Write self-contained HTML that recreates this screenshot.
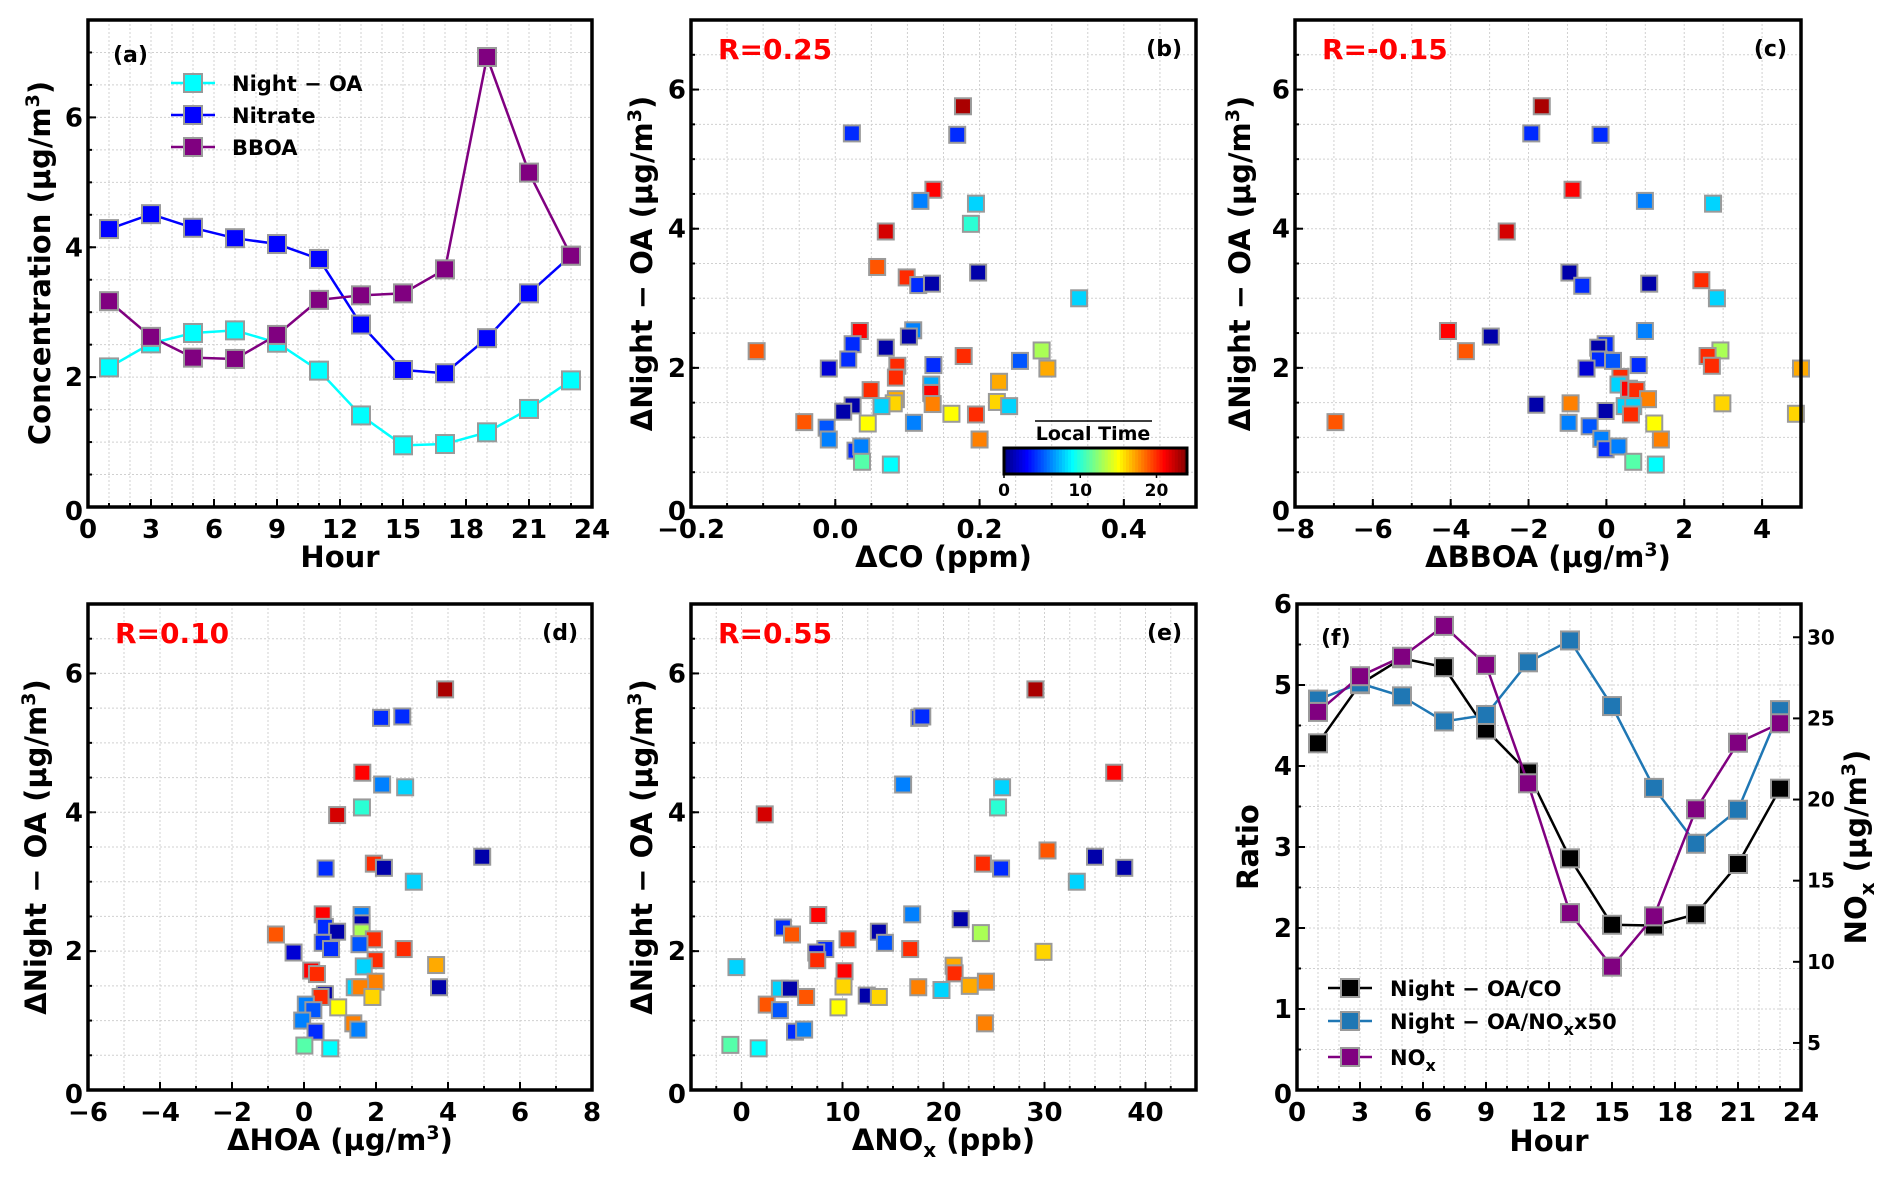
<!DOCTYPE html>
<html><head><meta charset="utf-8"><style>
html,body{margin:0;padding:0;background:#fff;}
svg{display:block;font-family:"DejaVu Sans","Liberation Sans",sans-serif;font-weight:bold;}
</style></head><body>
<svg id="fig" width="1892" height="1186" viewBox="0 0 1892 1186" xmlns="http://www.w3.org/2000/svg"></svg>
<script>
// ---------- Panel (a) data ----------
const hoursA = [1,3,5,7,9,11,13,15,17,19,21,23];
const nightOA = [2.15,2.52,2.68,2.72,2.53,2.10,1.41,0.95,0.97,1.15,1.51,1.95];
const nitrate = [4.28,4.51,4.30,4.14,4.05,3.82,2.81,2.11,2.06,2.60,3.29,3.87];
const bboa = [3.17,2.62,2.30,2.28,2.65,3.19,3.26,3.29,3.66,6.93,5.15,3.87];
// ---------- Panel (f) data ----------
const hoursF = [1,3,5,7,9,11,13,15,17,19,21,23];
const ratioCO = [4.28,5.01,5.33,5.22,4.45,3.92,2.86,2.04,2.03,2.17,2.79,3.72];
const ratioNOx = [4.82,5.02,4.86,4.55,4.63,5.28,5.55,4.74,3.73,3.04,3.46,4.69];
const noxF = [25.4,27.6,28.8,30.7,28.3,21.0,13.0,9.7,12.8,19.4,23.5,24.7];
// ---------- Panel (b) ΔCO scatter ----------
const bX = [0.177,0.023,0.169,0.136,0.118,0.195,0.188,0.070,0.058,0.198,0.099,0.115,0.134,0.338,0.034,0.108,0.102,0.024,0.070,-0.109,0.286,0.178,0.018,0.256,-0.009,0.086,0.136,0.294,0.084,0.227,0.133,0.049,0.133,0.084,0.081,0.064,0.135,0.024,0.011,0.224,0.241,0.161,0.195,-0.043,0.045,0.109,-0.012,-0.009,0.200,0.028,0.036,0.037,0.077];
const bY = [5.76,5.37,5.35,4.56,4.40,4.36,4.07,3.96,3.45,3.37,3.30,3.19,3.21,3.00,2.53,2.54,2.45,2.34,2.29,2.24,2.25,2.17,2.12,2.10,1.99,2.03,2.04,1.99,1.86,1.80,1.76,1.68,1.64,1.55,1.49,1.45,1.48,1.46,1.37,1.51,1.45,1.34,1.33,1.22,1.20,1.21,1.14,0.97,0.97,0.81,0.87,0.65,0.61];
const bH = [23,4,4,21,6,8,10,22,19,1,20,4,1,8,21,6,1,4,1,19,13,20,4,5,2,20,4,17,20,17,7,20,21,17,16,8,18,1,1,16,8,15,20,19,15,6,5,6,18,4,6,11,9];
// ---------- Panel (c) ΔBBOA scatter ----------
const cX = [-1.66,-1.93,-0.15,-0.87,0.99,2.74,-2.56,-0.95,-0.62,1.10,2.44,2.84,-4.07,-2.97,0.99,-3.61,-0.02,-0.21,-0.19,0.17,-0.51,0.83,2.93,2.60,2.71,5.0,0.36,0.31,0.58,0.77,1.07,-1.80,-0.92,0.47,0.69,0.63,-0.02,2.98,4.87,-6.96,-0.97,1.23,-0.43,-0.13,1.40,-0.02,0.31,0.69,1.27];
const cY = [5.76,5.37,5.35,4.56,4.40,4.36,3.96,3.37,3.18,3.21,3.26,3.00,2.53,2.45,2.53,2.24,2.34,2.29,2.12,2.10,1.99,2.04,2.25,2.17,2.03,1.99,1.87,1.76,1.70,1.68,1.55,1.47,1.49,1.45,1.45,1.33,1.38,1.49,1.34,1.22,1.21,1.20,1.16,0.98,0.97,0.83,0.87,0.65,0.61];
const cH = [23,4,4,21,6,8,22,1,4,1,20,8,21,1,6,19,4,1,4,5,2,4,13,20,20,17,20,8,21,20,18,1,18,8,8,20,1,16,16,19,6,15,5,6,18,4,6,11,9];
// ---------- Panel (d) ΔHOA scatter ----------
const dX = [3.92,2.14,2.73,1.62,2.17,2.81,1.61,0.92,4.95,1.94,2.22,0.60,3.05,0.52,1.60,1.60,0.58,-0.78,0.92,1.60,1.94,0.52,1.54,0.75,-0.29,2.77,1.99,3.67,1.66,0.20,0.36,1.99,1.41,1.56,3.75,0.58,0.46,1.90,0.05,0.95,0.26,-0.05,1.37,1.51,0.32,0.01,0.73];
const dY = [5.77,5.36,5.38,4.57,4.40,4.36,4.07,3.96,3.36,3.26,3.20,3.19,3.00,2.53,2.52,2.40,2.35,2.24,2.28,2.27,2.17,2.12,2.10,2.03,1.98,2.03,1.87,1.80,1.78,1.72,1.67,1.56,1.48,1.48,1.48,1.38,1.34,1.34,1.23,1.19,1.15,1.00,0.96,0.87,0.84,0.64,0.60];
const dH = [23,4,4,21,6,8,10,22,1,20,1,4,8,21,6,1,4,19,1,13,20,4,5,4,2,20,20,17,8,21,20,18,8,18,1,1,20,16,6,15,5,6,18,6,4,11,9];
// ---------- Panel (e) ΔNOx scatter ----------
const eX = [29.1,17.6,17.9,36.9,16.0,25.8,25.4,2.3,30.3,35.0,23.9,37.9,25.7,33.2,7.6,16.9,21.7,4.1,5.0,13.6,23.7,10.5,14.2,8.3,7.4,16.7,7.5,29.9,21.0,-0.5,10.2,21.1,10.1,17.5,22.6,24.2,19.8,3.8,4.8,6.4,12.4,13.6,2.5,3.8,9.6,24.1,5.3,6.2,-1.1,1.7];
const eY = [5.77,5.36,5.38,4.57,4.40,4.36,4.07,3.97,3.45,3.36,3.26,3.20,3.19,3.00,2.52,2.53,2.46,2.34,2.24,2.28,2.26,2.17,2.12,2.03,1.98,2.03,1.87,1.99,1.79,1.77,1.71,1.68,1.49,1.48,1.50,1.56,1.44,1.46,1.46,1.34,1.36,1.34,1.23,1.15,1.19,0.96,0.84,0.87,0.65,0.60];
const eH = [23,4,4,21,6,8,10,22,19,1,20,1,4,8,21,6,1,4,19,1,13,20,5,4,2,20,20,16,17,8,21,20,16,18,17,18,8,8,1,19,1,16,19,5,15,18,4,6,11,9];

const NS = "http://www.w3.org/2000/svg";
const svg = document.getElementById('fig');
function el(tag, parent){ const e = document.createElementNS(NS, tag); parent.appendChild(e); return e; }
function setA(e, o){ for (const k in o) e.setAttribute(k, o[k]); return e; }
function jet(t){
  const c = v => Math.max(0, Math.min(1, v));
  const r = c(1.5 - Math.abs(4*t - 3)), g = c(1.5 - Math.abs(4*t - 2)), b = c(1.5 - Math.abs(4*t - 1));
  return `rgb(${Math.round(r*255)},${Math.round(g*255)},${Math.round(b*255)})`;
}
function fmt(v, d){ const s = v.toFixed(d); return v < 0 ? '\u2212' + s.slice(1) : s; }

function makePanel(p){
  const g = el('g', svg);
  
  
  const sx = v => p.L + (v - p.xmin) / (p.xmax - p.xmin) * (p.R - p.L);
  const sy = v => p.B - (v - p.ymin) / (p.ymax - p.ymin) * (p.B - p.T);
  p.sx = sx; p.sy = sy;
  const grid = el('g', g);
  
  
  setA(grid, {stroke:'#d0d0d0','stroke-width':1,'stroke-dasharray':'2,2'});
  for (let v = p.xmin; v <= p.xmax + 1e-9; v += p.xminor){
    const x = sx(v); if (x <= p.L + 1 || x >= p.R - 1) continue;
    setA(el('line', grid), {x1:x, x2:x, y1:p.T, y2:p.B});
  }
  for (let v = p.ymin; v <= p.ymax + 1e-9; v += p.yminor){
    const y = sy(v); if (y <= p.T + 1 || y >= p.B - 1) continue;
    setA(el('line', grid), {x1:p.L, x2:p.R, y1:y, y2:y});
  }
  const tk = el('g', g);
  
  
  setA(tk, {stroke:'#000','stroke-width':2});
  for (let v = p.xmin; v <= p.xmax + 1e-9; v += p.xminor){
    const x = sx(v); setA(el('line', tk), {x1:x, x2:x, y1:p.B, y2:p.B - 4});
  }
  for (let v = p.ymin; v <= p.ymax + 1e-9; v += p.yminor){
    const y = sy(v); setA(el('line', tk), {x1:p.L, x2:p.L + 4, y1:y, y2:y});
  }
  p.xt.forEach(v => { const x = sx(v); setA(el('line', tk), {x1:x, x2:x, y1:p.B, y2:p.B - 8}); });
  p.yt.forEach(v => { const y = sy(v); setA(el('line', tk), {x1:p.L, x2:p.L + 8, y1:y, y2:y}); });
  p.xt.forEach(v => {
    const t = el('text', g);
    
    
    setA(t, {x:sx(v), y:p.B + 31, 'text-anchor':'middle', 'font-size':26});
    t.textContent = fmt(v, p.xd);
  });
  p.yt.forEach(v => {
    const t = el('text', g);
    
    
    setA(t, {x:p.L - 5, y:sy(v) + 9 + (v === p.ymin ? 4 : 0), 'text-anchor':'end', 'font-size':26});
    t.textContent = fmt(v, 0);
  });
  return g;
}
function frame(p, g){
  const r = el('rect', g);
  
  
  setA(r, {x:p.L, y:p.T, width:p.R - p.L, height:p.B - p.T, fill:'none', stroke:'#000', 'stroke-width':3.5});
}
function addText(g, name, x, y, txt, attrs){
  const t = el('text', g);
  
  
  setA(t, Object.assign({x:x, y:y}, attrs || {}));
  t.innerHTML = txt;
  return t;
}
function marker(g, x, y, fill, size){
  const s = size || 16;
  const r = el('rect', g);
  setA(r, {x:x - s/2, y:y - s/2, width:s, height:s, fill:fill, stroke:'#9a9a9a', 'stroke-width':2});
  return r;
}
const SUP3 = '<tspan dy="-11" font-size="19">3</tspan><tspan dy="11">)</tspan>';
const UG = '(\u00b5g/m' + SUP3;

function linePanel(p, g, series){
  series.forEach(s => {
    const sg = el('g', g);
    
    
    const sy = s.sy || p.sy;
    const pts = s.x.map((h, i) => p.sx(h) + ',' + sy(s.y[i])).join(' ');
    const pl = el('polyline', sg);
    setA(pl, {points:pts, fill:'none', stroke:s.color, 'stroke-width':2.5});
    s.x.forEach((h, i) => {
      const m = marker(sg, p.sx(h), sy(s.y[i]), s.color, 18);
      
      
    });
  });
}
function legend(g, items, lx, ys, tx){
  items.forEach((it, i) => {
    const lg = el('g', g);
    
    
    setA(el('line', lg), {x1:lx - 22, x2:lx + 22, y1:ys[i], y2:ys[i], stroke:it.color, 'stroke-width':2.5});
    marker(lg, lx, ys[i], it.color, 18);
    const t = el('text', lg);
    setA(t, {x:tx, y:ys[i] + 8, 'font-size':21});
    t.innerHTML = it.label;
  });
}
function scatterPanel(p, g, xs, ys, hs){
  const sg = el('g', g);
  
  
  xs.forEach((v, i) => {
    const m = marker(sg, p.sx(v), p.sy(ys[i]), jet(hs[i] / 24), 16);
    
    
  });
}
const range = (a, b, s) => { const r = []; for (let v = a; v <= b + 1e-9; v += s) r.push(+v.toFixed(6)); return r; };

// ----- (a)
const pa = {id:'a', L:88, R:592, T:20, B:507, xmin:0, xmax:24, ymin:0, ymax:7.5, xminor:1, yminor:0.5, xt:range(0,24,3), yt:[0,2,4,6], xd:0};
const ga = makePanel(pa);
linePanel(pa, ga, [
  {name:'night-oa', x:hoursA, y:nightOA, color:'#00ffff'},
  {name:'nitrate', x:hoursA, y:nitrate, color:'#0000ff'},
  {name:'bboa', x:hoursA, y:bboa, color:'#800080'}]);
legend(ga, [{label:'Night \u2212 OA', color:'#00ffff'}, {label:'Nitrate', color:'#0000ff'}, {label:'BBOA', color:'#800080'}], 193, [83,115,147], 232);
addText(ga, 'panel-label-a', 113, 62, '(a)', {'font-size':22});
addText(ga, 'x-axis-title-a', 340, 567, 'Hour', {'text-anchor':'middle','font-size':29});
addText(ga, 'y-axis-title-a', 0, 0, 'Concentration ' + UG, {'text-anchor':'middle','font-size':29, transform:'translate(50,263) rotate(-90)'});
frame(pa, ga);

const ylab = '\u0394Night \u2212 OA ' + UG;
function scatterBlock(p, xs, ys, hs, R, xtitle, lx){
  const g = makePanel(p);
  scatterPanel(p, g, xs, ys, hs);
  addText(g, 'correlation-label-' + p.id, p.L + 27, p.T + 39, R, {'font-size':28, fill:'#ff0000'});
  addText(g, 'panel-label-' + p.id, p.R - 14, p.T + 36, '(' + p.id + ')', {'font-size':22, 'text-anchor':'end'});
  addText(g, 'x-axis-title-' + p.id, (p.L + p.R)/2, p.B + 60, xtitle, {'text-anchor':'middle','font-size':29});
  addText(g, 'y-axis-title-' + p.id, 0, 0, ylab, {'text-anchor':'middle','font-size':29, transform:`translate(${lx},${(p.T + p.B)/2}) rotate(-90)`});
  frame(p, g);
  return g;
}
const pb = {id:'b', L:691, R:1196, T:20, B:507, xmin:-0.2, xmax:0.5, ymin:0, ymax:7, xminor:0.05, yminor:0.5, xt:[-0.2,0,0.2,0.4], yt:[0,2,4,6], xd:1};
const gb = scatterBlock(pb, bX, bY, bH, 'R=0.25', '\u0394CO (ppm)', 652);
(function(){
  const cb = el('g', gb);
  
  
  const x0 = 1004, x1 = 1187, y0 = 448, h = 26;
  const n = 60;
  for (let i = 0; i < n; i++){
    setA(el('rect', cb), {x:x0 + (x1 - x0) * i / n, y:y0, width:(x1 - x0)/n + 0.6, height:h, fill:jet((i + 0.5)/n)});
  }
  setA(el('rect', cb), {x:x0, y:y0, width:x1 - x0, height:h, fill:'none', stroke:'#000', 'stroke-width':3});
  [0,10,20].forEach(v => {
    const x = x0 + (x1 - x0) * v / 24;
    setA(el('line', cb), {x1:x, x2:x, y1:y0 + h, y2:y0 + h + 4, stroke:'#000', 'stroke-width':1.5});
    const t = el('text', cb); setA(t, {x:x, y:y0 + h + 22, 'text-anchor':'middle', 'font-size':17}); t.textContent = v;
  });
  setA(el('line', cb), {x1:1035, x2:1152, y1:421, y2:421, stroke:'#000', 'stroke-width':1.5});
  const t = el('text', cb); setA(t, {x:1093, y:440, 'text-anchor':'middle', 'font-size':19}); t.textContent = 'Local Time';
})();
const pc = {id:'c', L:1295, R:1801, T:20, B:507, xmin:-8, xmax:5, ymin:0, ymax:7, xminor:1, yminor:0.5, xt:[-8,-6,-4,-2,0,2,4], yt:[0,2,4,6], xd:0};
scatterBlock(pc, cX, cY, cH, 'R=-0.15', '\u0394BBOA ' + UG, 1250);
const pd = {id:'d', L:88, R:592, T:604, B:1090, xmin:-6, xmax:8, ymin:0, ymax:7, xminor:1, yminor:0.5, xt:[-6,-4,-2,0,2,4,6,8], yt:[0,2,4,6], xd:0};
scatterBlock(pd, dX, dY, dH, 'R=0.10', '\u0394HOA ' + UG, 46);
const pe = {id:'e', L:691, R:1196, T:604, B:1090, xmin:-5, xmax:45, ymin:0, ymax:7, xminor:2.5, yminor:0.5, xt:[0,10,20,30,40], yt:[0,2,4,6], xd:0};
scatterBlock(pe, eX, eY, eH, 'R=0.55', '\u0394NO<tspan dy="7" font-size="20">x</tspan><tspan dy="-7"> (ppb)</tspan>', 652);

// ----- (f)
const pf = {id:'f', L:1297, R:1801, T:604, B:1090, xmin:0, xmax:24, ymin:0, ymax:6, xminor:1, yminor:0.5, xt:range(0,24,3), yt:[0,1,2,3,4,5,6], xd:0};
const gf = makePanel(pf);
const rmin = 2.1, rmax = 32.05;
const syR = v => pf.B - (v - rmin) / (rmax - rmin) * (pf.B - pf.T);
(function(){
  const ra = el('g', gf);
  
  
  for (let v = 5; v <= 30; v += 5){
    const y = syR(v);
    setA(el('line', ra), {x1:pf.R, x2:pf.R - 8, y1:y, y2:y, stroke:'#000', 'stroke-width':2});
    const t = el('text', ra); setA(t, {x:pf.R + 6, y:y + 7, 'font-size':20}); t.textContent = v;
  }
})();
linePanel(pf, gf, [
  {name:'night-oa-co-ratio', x:hoursF, y:ratioCO, color:'#000000'},
  {name:'night-oa-nox-ratio', x:hoursF, y:ratioNOx, color:'#1f77b4'},
  {name:'nox', x:hoursF, y:noxF, color:'#800080', sy:syR}]);
legend(gf, [{label:'Night \u2212 OA/CO', color:'#000000'},
            {label:'Night \u2212 OA/NO<tspan dy="6" font-size="16">x</tspan><tspan dy="-6">x50</tspan>', color:'#1f77b4'},
            {label:'NO<tspan dy="6" font-size="16">x</tspan>', color:'#800080'}], 1350, [988,1021,1057], 1390);
addText(gf, 'panel-label-f', 1321, 645, '(f)', {'font-size':22});
addText(gf, 'x-axis-title-f', 1549, 1151, 'Hour', {'text-anchor':'middle','font-size':29});
addText(gf, 'y-axis-title-f', 0, 0, 'Ratio', {'text-anchor':'middle','font-size':29, transform:'translate(1258,847) rotate(-90)'});
addText(gf, 'y2-axis-title-f', 0, 0, 'NO<tspan dy="8" font-size="20">x</tspan><tspan dy="-8"> </tspan>' + UG, {'text-anchor':'middle','font-size':29, transform:'translate(1866,847) rotate(-90)'});
frame(pf, gf);
</script>
</body></html>
